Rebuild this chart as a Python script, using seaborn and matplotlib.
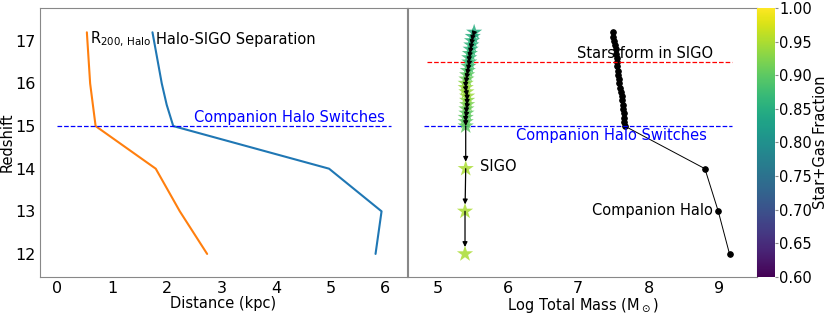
import matplotlib
matplotlib.use("Agg")
import matplotlib.pyplot as plt
import numpy as np
import pandas as pd
import seaborn as sns

# ---- left panel: distances (kpc) vs redshift ----
z_left = [17.2, 16.0, 15.5, 15.0, 14.0, 13.0, 12.0]
r200_halo = [0.54, 0.60, 0.65, 0.70, 1.80, 2.24, 2.74]
separation = [1.74, 1.91, 2.00, 2.12, 4.97, 5.93, 5.82]

# ---- right panel: SIGO track ----
z_sigo = [17.2, 17.1, 17.0, 16.9, 16.8, 16.7, 16.6, 16.5, 16.4, 16.3, 16.2, 16.1,
          16.0, 15.9, 15.8, 15.7, 15.6, 15.5, 15.4, 15.3, 15.2, 15.1, 15.0,
          14.0, 13.0, 12.0]
mass_sigo = [5.52, 5.50, 5.49, 5.48, 5.47, 5.46, 5.45, 5.45, 5.44, 5.43, 5.42, 5.41,
             5.40, 5.40, 5.41, 5.42, 5.42, 5.42, 5.41, 5.41, 5.40, 5.40, 5.40,
             5.40, 5.39, 5.39]
frac_sigo = [0.85, 0.85, 0.86, 0.86, 0.86, 0.87, 0.87, 0.87, 0.88, 0.89, 0.90, 0.91,
             0.93, 0.94, 0.94, 0.94, 0.93, 0.92, 0.91, 0.90, 0.90, 0.90, 0.90,
             0.95, 0.95, 0.95]

# ---- right panel: companion halo track ----
z_comp = [17.2, 17.1, 17.0, 16.9, 16.8, 16.7, 16.6, 16.5, 16.4, 16.3, 16.2, 16.1,
          16.0, 15.9, 15.8, 15.7, 15.6, 15.5, 15.4, 15.3, 15.2, 15.1, 15.0,
          14.0, 13.0, 12.0]
mass_comp = [7.49, 7.50, 7.51, 7.52, 7.53, 7.54, 7.545, 7.55, 7.555, 7.56, 7.57, 7.575,
             7.58, 7.60, 7.61, 7.62, 7.625, 7.63, 7.64, 7.645, 7.65, 7.655, 7.66,
             8.80, 8.99, 9.15]

z_switch = 15.0
z_starform = 16.5

sns.set_style("white")
plt.rcParams["font.family"] = ["DejaVu Sans"]
plt.rcParams["text.color"] = "black"
plt.rcParams["axes.labelcolor"] = "black"
plt.rcParams["axes.edgecolor"] = "#888888"
plt.rcParams["xtick.color"] = "#888888"
plt.rcParams["ytick.color"] = "#888888"
plt.rcParams["xtick.labelcolor"] = "black"
plt.rcParams["ytick.labelcolor"] = "black"

fig = plt.figure(figsize=(8.3, 3.14), dpi=100)
ax1 = fig.add_axes([0.048, 0.118, 0.442, 0.8565])
ax2 = fig.add_axes([0.4916, 0.118, 0.4204, 0.8565], sharey=ax1)
cax = fig.add_axes([0.9124, 0.118, 0.0213, 0.8565])

# left panel
sns.lineplot(x=r200_halo, y=z_left, sort=False, estimator=None, color="C1", lw=1.5, ax=ax1)
sns.lineplot(x=separation, y=z_left, sort=False, estimator=None, color="C0", lw=1.5, ax=ax1)
ax1.hlines(z_switch, 0, 6.1, colors="blue", linestyles="--", lw=0.9)
ax1.text(0.6, 17.03, r"R$_{200,\,\mathrm{Halo}}$", fontsize=10.5, va="center")
ax1.text(1.81, 17.03, "Halo-SIGO Separation", fontsize=10.5, va="center")
ax1.text(2.5, 15.19, "Companion Halo Switches", fontsize=10.5, va="center", color="blue")
ax1.set_xlim(-0.32, 6.39)
ax1.set_ylim(11.46, 17.77)
ax1.set_xticks(range(0, 7))
ax1.set_yticks(range(12, 18))
ax1.set_xlabel("Distance (kpc)", fontsize=10.5)
ax1.set_ylabel("Redshift", fontsize=10.5)
ax1.xaxis.set_label_coords(0.5, -0.07)
ax1.yaxis.set_label_coords(-0.068, 0.5)
ax1.tick_params(labelsize=11.5, length=2, width=0.8, pad=1)

# right panel
df_comp = pd.DataFrame({"mass": mass_comp, "z": z_comp})
sns.lineplot(data=df_comp, x="mass", y="z", sort=False, estimator=None, color="black",
             lw=0.7, marker="o", markersize=4, markeredgecolor="black", ax=ax2)

for i in range(len(z_sigo) - 1):
    gap = z_sigo[i] - z_sigo[i + 1]
    ax2.annotate("", xy=(mass_sigo[i + 1], z_sigo[i + 1]), xytext=(mass_sigo[i], z_sigo[i]),
                 arrowprops=dict(arrowstyle="-|>", color="black", lw=0.9,
                                 mutation_scale=7, shrinkA=0,
                                 shrinkB=5 if gap > 0.5 else 0),
                 zorder=4)

df_sigo = pd.DataFrame({"mass": mass_sigo, "z": z_sigo, "frac": frac_sigo})
sns.scatterplot(data=df_sigo, x="mass", y="z", hue="frac", palette="viridis",
                hue_norm=(0.6, 1.0), marker="*", s=150, linewidth=0, alpha=0.85,
                legend=False, ax=ax2, zorder=3)

ax2.hlines(z_starform, 4.85, 9.19, colors="red", linestyles="--", lw=0.9)
ax2.hlines(z_switch, 4.8, 9.19, colors="blue", linestyles="--", lw=0.9)
ax2.text(6.98, 16.70, "Stars form in SIGO", fontsize=10.5, va="center")
ax2.text(6.11, 14.78, "Companion Halo Switches", fontsize=10.5, va="center", color="blue")
ax2.text(5.6, 14.04, "SIGO", fontsize=10.5, va="center")
ax2.text(7.2, 13.03, "Companion Halo", fontsize=10.5, va="center")
ax2.set_xlim(4.58, 9.54)
ax2.set_xticks(range(5, 10))
ax2.set_xlabel(r"Log Total Mass (M$_\odot$)", fontsize=10.5)
ax2.xaxis.set_label_coords(0.5, -0.072)
ax2.set_ylabel("")
ax2.tick_params(labelsize=11.5, length=2, width=0.8, pad=1)
ax2.tick_params(axis="y", labelleft=False)

sm = plt.cm.ScalarMappable(cmap="viridis", norm=plt.Normalize(0.6, 1.0))
cb = fig.colorbar(sm, cax=cax, ticks=np.arange(0.60, 1.001, 0.05))
cb.outline.set_visible(False)
cb.ax.set_yticklabels(["%.2f" % t for t in np.arange(0.60, 1.001, 0.05)])
cb.ax.tick_params(labelsize=10.5, length=2, width=0.8, pad=1)
cb.set_label("Star+Gas Fraction", fontsize=10.5)
cb.ax.yaxis.set_label_coords(3.15, 0.5)

fig.savefig("out.png", dpi=100)
